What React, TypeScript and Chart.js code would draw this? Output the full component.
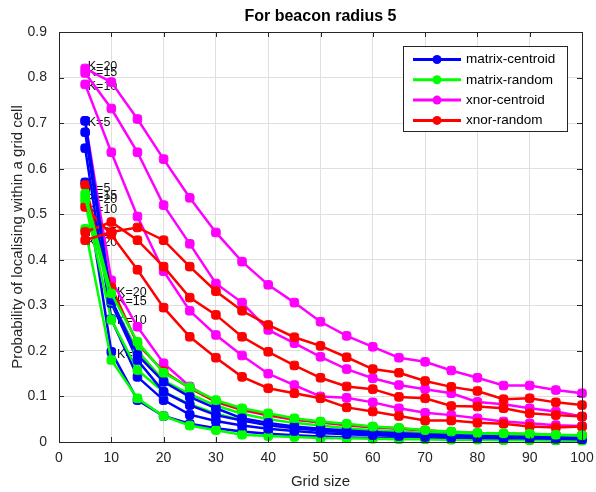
import React, { useEffect, useRef } from 'react';
import { Chart, registerables } from 'chart.js';

Chart.register(...registerables);

const FONT = '"Liberation Sans", Arial, Helvetica, sans-serif';
const AXIS_COLOR = '#262626';

// ---- data ----
const chartTitle = 'For beacon radius 5';
const xAxisTitle = 'Grid size';
const yAxisTitle = 'Probability of localising within a grid cell';

const gridSize = [5, 10, 15, 20, 25, 30, 35, 40, 45, 50, 55, 60, 65, 70, 75, 80, 85, 90, 95, 100];
const kValues = [5, 10, 15, 20];

const xTicks = [0, 10, 20, 30, 40, 50, 60, 70, 80, 90, 100];
const xTickLabels = ['0', '10', '20', '30', '40', '50', '60', '70', '80', '90', '100'];
const yTicks = [0, 0.1, 0.2, 0.3, 0.4, 0.5, 0.6, 0.7, 0.8, 0.9];
const yTickLabels = ['0', '0.1', '0.2', '0.3', '0.4', '0.5', '0.6', '0.7', '0.8', '0.9'];

const seriesNames = ['matrix-centroid', 'matrix-random', 'xnor-centroid', 'xnor-random'];
const seriesColors = ['#0000ff', '#00ff00', '#ff00ff', '#ff0000'];

// matrix-centroid (blue)
const mcK5 = [0.570, 0.198, 0.092, 0.057, 0.040, 0.030, 0.023, 0.018, 0.015, 0.012, 0.010, 0.009, 0.008, 0.007, 0.006, 0.006, 0.005, 0.005, 0.004, 0.004];
const mcK10 = [0.645, 0.270, 0.143, 0.092, 0.060, 0.046, 0.036, 0.029, 0.024, 0.020, 0.017, 0.015, 0.013, 0.011, 0.010, 0.009, 0.008, 0.008, 0.007, 0.006];
const mcK15 = [0.680, 0.305, 0.180, 0.110, 0.081, 0.059, 0.047, 0.037, 0.030, 0.025, 0.021, 0.018, 0.016, 0.014, 0.012, 0.011, 0.010, 0.009, 0.009, 0.008];
const mcK20 = [0.705, 0.312, 0.191, 0.132, 0.099, 0.074, 0.052, 0.042, 0.034, 0.029, 0.025, 0.022, 0.019, 0.017, 0.015, 0.013, 0.012, 0.011, 0.010, 0.009];

// matrix-random (green)
const mrK5 = [0.468, 0.180, 0.096, 0.057, 0.036, 0.026, 0.016, 0.013, 0.011, 0.009, 0.008, 0.007, 0.006, 0.006, 0.005, 0.005, 0.004, 0.004, 0.004, 0.003];
const mrK10 = [0.525, 0.268, 0.158, 0.110, 0.083, 0.062, 0.048, 0.038, 0.032, 0.027, 0.023, 0.020, 0.018, 0.015, 0.014, 0.013, 0.012, 0.011, 0.010, 0.009];
const mrK15 = [0.535, 0.310, 0.200, 0.135, 0.105, 0.080, 0.062, 0.050, 0.042, 0.036, 0.030, 0.026, 0.023, 0.020, 0.018, 0.016, 0.015, 0.014, 0.013, 0.012];
const mrK20 = [0.545, 0.326, 0.220, 0.152, 0.120, 0.092, 0.074, 0.063, 0.052, 0.045, 0.040, 0.034, 0.031, 0.026, 0.023, 0.020, 0.019, 0.018, 0.016, 0.015];

// xnor-centroid (magenta)
const xcK5 = [0.705, 0.355, 0.253, 0.173, 0.122, 0.088, 0.070, 0.058, 0.049, 0.043, 0.037, 0.032, 0.029, 0.025, 0.022, 0.019, 0.018, 0.017, 0.015, 0.014];
const xcK10 = [0.785, 0.636, 0.495, 0.375, 0.288, 0.235, 0.190, 0.150, 0.125, 0.100, 0.097, 0.087, 0.074, 0.064, 0.059, 0.052, 0.045, 0.041, 0.037, 0.035];
const xcK15 = [0.810, 0.732, 0.636, 0.520, 0.435, 0.348, 0.306, 0.246, 0.217, 0.187, 0.160, 0.140, 0.125, 0.116, 0.107, 0.088, 0.083, 0.074, 0.067, 0.056];
const xcK20 = [0.820, 0.790, 0.709, 0.621, 0.536, 0.460, 0.396, 0.345, 0.306, 0.264, 0.233, 0.209, 0.185, 0.176, 0.157, 0.141, 0.124, 0.124, 0.114, 0.107];

// xnor-random (red)
const xrK5 = [0.564, 0.340, 0.215, 0.155, 0.118, 0.088, 0.071, 0.060, 0.050, 0.044, 0.038, 0.033, 0.030, 0.025, 0.022, 0.019, 0.018, 0.017, 0.015, 0.014];
const xrK10 = [0.516, 0.455, 0.378, 0.295, 0.231, 0.185, 0.143, 0.118, 0.107, 0.096, 0.076, 0.067, 0.057, 0.047, 0.047, 0.042, 0.040, 0.034, 0.032, 0.034];
const xrK15 = [0.461, 0.483, 0.443, 0.385, 0.317, 0.279, 0.231, 0.198, 0.168, 0.141, 0.122, 0.116, 0.099, 0.096, 0.079, 0.078, 0.074, 0.063, 0.059, 0.056];
const xrK20 = [0.443, 0.461, 0.471, 0.443, 0.385, 0.331, 0.288, 0.257, 0.230, 0.211, 0.186, 0.160, 0.152, 0.134, 0.121, 0.112, 0.094, 0.096, 0.087, 0.081];

// annotation text labels (data coordinates)
const labelText = ['K=20', 'K=15', 'K=10', 'K=5', 'K=5', 'K=15', 'K=20', 'K=10', 'K=15', 'K=20', 'K=20', 'K=15', 'K=10', 'K=5'];
const labelX = [5.5, 5.5, 5.5, 5.5, 5.5, 5.5, 5.5, 5.5, 5.5, 5.5, 11.1, 11.1, 11.1, 11.1];
const labelY = [0.824, 0.812, 0.781, 0.701, 0.557, 0.540, 0.533, 0.511, 0.460, 0.437, 0.327, 0.308, 0.266, 0.191];

const seriesValues = [
  [mcK5, mcK10, mcK15, mcK20],
  [mrK5, mrK10, mrK15, mrK20],
  [xcK5, xcK10, xcK15, xcK20],
  [xrK5, xrK10, xrK15, xrK20],
];

function buildDatasets() {
  const ds: any[] = [];
  let idx = 0;
  for (let k = 0; k < kValues.length; k++) {
    for (let s = 0; s < seriesNames.length; s++) {
      const vals = seriesValues[s][k];
      ds.push({
        label: seriesNames[s] + ' K=' + kValues[k],
        data: gridSize.map((g, i) => ({ x: g, y: vals[i] })),
        borderColor: seriesColors[s],
        backgroundColor: seriesColors[s],
        pointBackgroundColor: seriesColors[s],
        pointBorderColor: seriesColors[s],
        borderWidth: 2.5,
        pointStyle: 'rectRounded',
        pointRadius: 5,
        pointBorderWidth: 1,
        tension: 0,
        clip: false,
        order: -idx,
      });
      idx++;
    }
  }
  return ds;
}

const decorPlugin = {
  id: 'matlabDecor',
  beforeDatasetsDraw(chart: any) {
    const { ctx, scales } = chart;
    const x = scales.x;
    const y = scales.y;
    ctx.save();
    ctx.font = '12.5px ' + FONT;
    ctx.fillStyle = '#111111';
    ctx.textBaseline = 'middle';
    ctx.textAlign = 'left';
    for (let i = 0; i < labelText.length; i++) {
      ctx.fillText(labelText[i], x.getPixelForValue(labelX[i]), y.getPixelForValue(labelY[i]));
    }
    ctx.restore();
  },
  afterDatasetsDraw(chart: any) {
    const { ctx, chartArea, scales } = chart;
    const { left, right, top, bottom } = chartArea;
    const x = scales.x;
    const y = scales.y;
    ctx.save();
    // axes box
    ctx.strokeStyle = AXIS_COLOR;
    ctx.lineWidth = 1;
    ctx.strokeRect(Math.round(left) + 0.5, Math.round(top) + 0.5, Math.round(right - left), Math.round(bottom - top));
    // inward ticks
    const tl = 5;
    ctx.beginPath();
    for (const v of xTicks) {
      const px = Math.round(x.getPixelForValue(v)) + 0.5;
      ctx.moveTo(px, bottom);
      ctx.lineTo(px, bottom - tl);
      ctx.moveTo(px, top);
      ctx.lineTo(px, top + tl);
    }
    for (const v of yTicks) {
      const py = Math.round(y.getPixelForValue(v)) + 0.5;
      ctx.moveTo(left, py);
      ctx.lineTo(left + tl, py);
      ctx.moveTo(right, py);
      ctx.lineTo(right - tl, py);
    }
    ctx.stroke();

    // legend
    const bx = 403.5, by = 46.5, bw = 164, bh = 85;
    ctx.fillStyle = '#ffffff';
    ctx.fillRect(bx, by, bw, bh);
    ctx.strokeStyle = AXIS_COLOR;
    ctx.strokeRect(bx, by, bw, bh);
    ctx.font = '13.5px ' + FONT;
    ctx.textBaseline = 'middle';
    ctx.textAlign = 'left';
    for (let i = 0; i < seriesNames.length; i++) {
      const ry = 59.5 + i * 20.3;
      ctx.strokeStyle = seriesColors[i];
      ctx.lineWidth = 3;
      ctx.beginPath();
      ctx.moveTo(413, ry);
      ctx.lineTo(461, ry);
      ctx.stroke();
      ctx.fillStyle = seriesColors[i];
      ctx.beginPath();
      ctx.arc(437, ry, 4.5, 0, Math.PI * 2);
      ctx.fill();
      ctx.fillStyle = '#000000';
      ctx.fillText(seriesNames[i], 466, ry);
    }
    ctx.restore();
  },
};

export default function App() {
  const ref = useRef<HTMLCanvasElement>(null);
  useEffect(() => {
    const canvas = ref.current;
    if (!canvas) return;
    const chart = new Chart(canvas, {
      type: 'line',
      data: { datasets: buildDatasets() },
      options: {
        responsive: false,
        animation: false,
        devicePixelRatio: 1,
        layout: { padding: { left: 0, right: 14, top: 0, bottom: 0 } },
        plugins: {
          legend: { display: false },
          tooltip: { enabled: false },
          title: {
            display: true,
            text: chartTitle,
            fullSize: false,
            color: '#000000',
            font: { family: FONT, size: 16, weight: 'bold' },
            padding: { top: 6.5, bottom: 6.3 },
          },
        },
        scales: {
          x: {
            type: 'linear',
            min: 0,
            max: 100,
            afterFit(s: any) { s.height = 50; s.paddingLeft = 0; s.paddingRight = 0; },
            afterBuildTicks(s: any) { s.ticks = xTicks.map((v) => ({ value: v })); },
            ticks: {
              color: AXIS_COLOR,
              font: { family: FONT, size: 14 },
              padding: 8,
              maxRotation: 0,
              autoSkip: false,
              callback: (_v: any, i: number) => xTickLabels[i],
            },
            grid: { color: '#dfdfdf', drawTicks: false },
            border: { display: false },
            title: {
              display: true,
              text: xAxisTitle,
              color: AXIS_COLOR,
              font: { family: FONT, size: 15 },
              padding: { top: 0, bottom: 1 },
            },
          },
          y: {
            type: 'linear',
            min: 0,
            max: 0.9,
            afterFit(s: any) { s.width = 59; s.paddingTop = 0; s.paddingBottom = 0; },
            afterBuildTicks(s: any) { s.ticks = yTicks.map((v) => ({ value: v })); },
            ticks: {
              color: AXIS_COLOR,
              font: { family: FONT, size: 14 },
              padding: 12,
              autoSkip: false,
              callback: (_v: any, i: number) => yTickLabels[i],
            },
            grid: { color: '#dfdfdf', drawTicks: false },
            border: { display: false },
            title: {
              display: true,
              text: yAxisTitle,
              color: AXIS_COLOR,
              font: { family: FONT, size: 15 },
              padding: { top: 9, bottom: 0 },
            },
          },
        },
      } as any,
      plugins: [decorPlugin],
    });
    return () => chart.destroy();
  }, []);
  return (
    <div style={{ position: 'fixed', left: 0, top: 0, width: 596, height: 492, background: '#ffffff' }}>
      <canvas ref={ref} width={596} height={492} style={{ display: 'block' }} />
    </div>
  );
}
